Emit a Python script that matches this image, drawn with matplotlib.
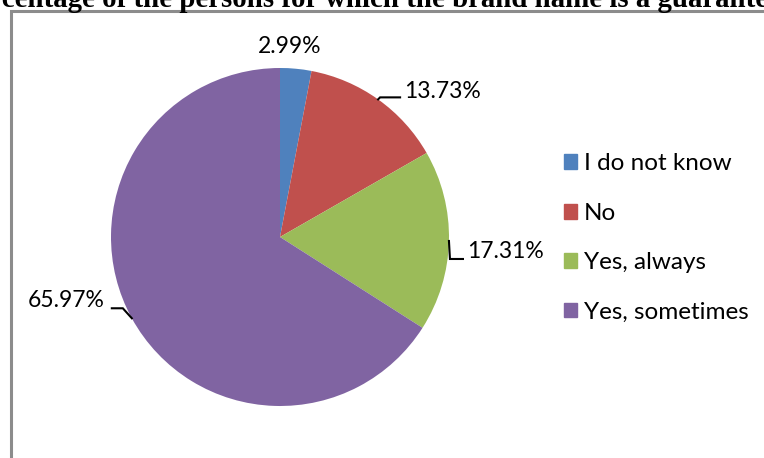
import matplotlib
matplotlib.use("Agg")
import matplotlib.pyplot as plt
import numpy as np
from matplotlib.patches import Rectangle

categories = ["I do not know", "No", "Yes, always", "Yes, sometimes"]
values = [2.99, 13.73, 17.31, 65.97]
labels = ["2.99%", "13.73%", "17.31%", "65.97%"]
colors = ["#4F81BD", "#C0504D", "#9BBB59", "#8064A2"]
title = "Percentage of the persons for which the brand name is a guarantee"

W, H = 764, 458
fig = plt.figure(figsize=(W / 100, H / 100), dpi=100)

# chart frame (cut off on the right and bottom)
fig.patches.append(Rectangle((10.5 / W, -0.1), 1.2, 1 - 11 / H + 0.1, transform=fig.transFigure,
                             fill=False, edgecolor="#8c8c8c", linewidth=2.2))

fig.text(-41 / W, 1 - 7 / H, title, fontsize=20.8, fontweight="bold",
         family="Liberation Serif", va="baseline", ha="left")

cx, cy, R = 280, 237, 169
ax = fig.add_axes([(cx - R) / W, (H - cy - R) / H, 2 * R / W, 2 * R / H])
wedges, _ = ax.pie(values, colors=colors, startangle=90, counterclock=False, radius=1,
                   wedgeprops=dict(linewidth=0))
ax.set_xlim(-1, 1)
ax.set_ylim(-1, 1)
ax.set_aspect("equal")
ax.axis("off")

px = 1 / R  # one pixel in data units
fam = ["Lato", "DejaVu Sans"]
font = dict(family=fam, fontsize=16.5)

# leader line offsets (pixels, y up) and text offsets from the wedge edge
leaders = [None,
           [(0, 0), (2, 2), (22, 2)],
           [(0, 0), (1, -18), (14, -18)],
           [(0, 0), (-9, 10), (-20, 10)]]
text_off = [(-6, 22, "center"), (26, 8, "left"), (18, -11, "left"), (-27, 18, "right")]

for w, lab, lead, (dx, dy, ha) in zip(wedges, labels, leaders, text_off):
    mid = np.deg2rad((w.theta1 + w.theta2) / 2)
    ex, ey = np.cos(mid), np.sin(mid)
    if lead:
        xs = [ex + a * px for a, b in lead]
        ys = [ey + b * px for a, b in lead]
        ax.plot(xs, ys, color="black", linewidth=1.5, clip_on=False,
                solid_joinstyle="miter")
    ax.text(ex + dx * px, ey + dy * px, lab, ha=ha, va="center", **font)

handles = [Rectangle((0, 0), 1, 1, color=c) for c in colors]
fig.legend(handles, categories, loc="center left", bbox_to_anchor=(564 / W, 1 - 238 / H),
           frameon=False, prop=dict(family=fam, size=17.5), borderaxespad=0, borderpad=0,
           handlelength=0.55, handleheight=0.55, handletextpad=0.27, labelspacing=1.17)

fig.savefig("out.png", dpi=100)
